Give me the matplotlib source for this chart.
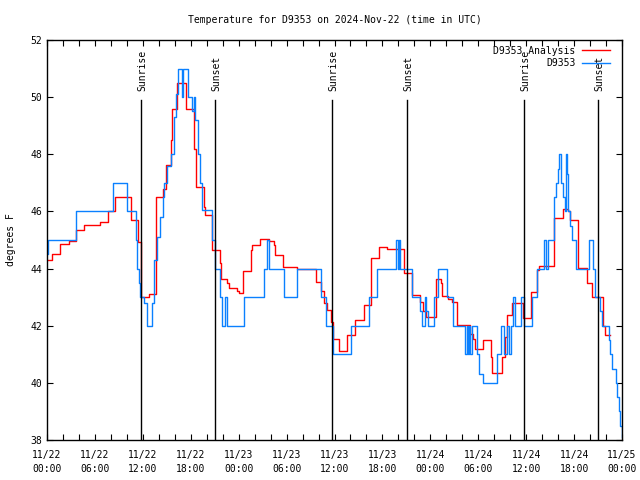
import numpy as np
import matplotlib.pyplot as plt

# hours since 2024-11-22 00:00 UTC
obs_hours = [0.0, 0.15, 3.63, 8.3, 10.06, 11.1, 11.25, 11.5, 11.6, 12.1, 12.5, 13.2, 13.35,
             13.75, 14.15, 14.5, 14.7, 15.06, 15.5, 15.9, 16.1, 16.2, 16.36, 16.87, 17.0,
             17.7, 18.2, 18.4, 18.5, 18.86, 19.1, 19.45, 20.7, 21.0, 21.7, 21.95, 22.3,
             22.5, 24.7, 27.2, 27.55, 27.8, 29.7, 31.3, 34.3, 34.9, 35.8, 38.1, 40.3,
             41.3, 43.75, 43.9, 44.1, 44.2, 45.7, 46.65, 46.9, 47.3, 47.45, 47.65, 48.4,
             48.9, 50.1, 50.85, 52.4, 52.55, 52.7, 52.85, 53.0, 53.2, 53.9, 54.1, 54.6,
             56.3, 56.9, 57.2, 57.6, 57.8, 58.1, 58.4, 58.6, 59.3, 59.75, 60.7, 61.3,
             62.2, 62.5, 62.7, 63.5, 63.7, 64.0, 64.15, 64.4, 64.6, 64.8, 64.95, 65.1,
             65.3, 65.55, 65.7, 66.2, 67.9, 68.4, 68.6, 69.25, 69.45, 70.4, 70.55, 70.8,
             71.2, 71.4, 71.6, 71.8, 71.95]
obs_temp = [44.5, 45.0, 46.0, 47.0, 46.0, 45.0, 44.0, 43.5, 43.0, 42.8, 42.0, 42.8, 44.3,
            45.1, 45.8, 46.5, 47.0, 47.6, 48.0, 49.3, 49.7, 50.1, 51.0, 50.0, 51.0,
            50.0, 49.5, 50.0, 49.2, 48.0, 47.0, 46.05, 45.0, 44.0, 43.0, 42.0, 43.0,
            42.0, 43.0, 44.0, 45.0, 44.0, 43.0, 44.0, 43.0, 42.0, 41.0, 42.0, 43.0,
            44.0, 45.0, 44.0, 45.0, 44.0, 43.0, 42.5, 42.0, 43.0, 42.5, 42.0, 43.0,
            44.0, 43.0, 42.0, 41.0, 42.0, 41.0, 42.0, 41.0, 42.0, 41.0, 40.3, 40.0,
            41.0, 42.0, 41.0, 42.0, 41.0, 42.0, 43.0, 42.0, 43.0, 42.0, 43.0, 44.0,
            45.0, 44.0, 45.0, 46.5, 47.0, 47.5, 48.0, 47.0, 46.5, 46.0, 48.0, 47.3,
            46.0, 45.5, 45.0, 44.0, 45.0, 44.0, 43.0, 42.5, 42.0, 41.5, 41.0, 40.5,
            40.0, 39.5, 39.0, 38.5, 38.1]

ana_hours = [0.0, 0.67, 1.6, 2.7, 3.6, 4.6, 6.6, 7.7, 8.5, 10.55, 11.35, 11.8, 12.8,
             13.65, 14.56, 14.9, 15.5, 15.6, 16.24, 17.4, 18.4, 18.6, 19.6, 19.75, 20.7,
             21.66, 21.85, 22.6, 22.75, 23.75, 24.0, 24.6, 25.5, 25.7, 26.7, 27.8, 28.4,
             28.6, 29.6, 31.3, 32.7, 33.7, 34.3, 34.65, 35.0, 35.6, 35.75, 36.6, 37.6,
             38.6, 39.65, 40.6, 41.6, 42.6, 44.0, 44.7, 45.7, 46.7, 47.1, 47.5, 48.7,
             49.3, 49.5, 50.25, 50.7, 51.4, 53.0, 53.4, 53.6, 54.3, 54.6, 55.6, 55.75,
             57.0, 57.3, 57.6, 58.2, 59.6, 60.55, 61.4, 61.6, 63.5, 64.6, 65.3, 65.5,
             66.5, 67.6, 68.3, 69.6, 69.9, 70.5]
ana_temp = [44.3, 44.5, 44.86, 44.96, 45.35, 45.52, 45.64, 46.0, 46.5, 45.7, 44.94, 43.0, 43.1,
            46.52, 46.8, 47.63, 48.5, 49.6, 50.48, 49.6, 48.2, 46.87, 46.17, 45.87, 44.65,
            44.18, 43.62, 43.5, 43.33, 43.2, 43.15, 43.93, 44.65, 44.83, 45.02, 44.95, 44.83,
            44.48, 44.07, 44.0, 43.98, 43.54, 43.2, 42.8, 42.55, 42.14, 41.52, 41.1, 41.67,
            42.2, 42.73, 44.36, 44.74, 44.7, 44.68, 43.83, 43.07, 42.84, 42.5, 42.32, 43.62,
            43.5, 43.04, 42.92, 42.82, 42.01, 41.7, 41.52, 41.17, 41.2, 41.5, 40.92, 40.33,
            40.9, 41.6, 42.37, 42.78, 42.26, 43.19, 43.95, 44.09, 45.76, 46.07, 46.0, 45.7,
            44.03, 43.48, 43.02, 42.0, 41.67, 41.67]

sun_hours = [11.77, 21.03, 35.67, 45.06, 59.7, 68.96]
sun_labels = ["Sunrise", "Sunset", "Sunrise", "Sunset", "Sunrise", "Sunset"]

tick_hours = list(range(0, 73, 6))
tick_labels = ["11/22\n00:00", "11/22\n06:00", "11/22\n12:00", "11/22\n18:00",
               "11/23\n00:00", "11/23\n06:00", "11/23\n12:00", "11/23\n18:00",
               "11/24\n00:00", "11/24\n06:00", "11/24\n12:00", "11/24\n18:00",
               "11/25\n00:00"]

plt.rcParams['font.family'] = ['DejaVu Sans Mono']
plt.rcParams['font.size'] = 7

fig = plt.figure(figsize=(6.4, 4.8), dpi=100)
ax = fig.add_axes([47 / 640, 1 - 440 / 480, 575 / 640, 400 / 480])

ax.plot(ana_hours, ana_temp, drawstyle='steps-post', color='#ff0000', lw=1.0,
        label='D9353 Analysis')
ax.plot(obs_hours, obs_temp, drawstyle='steps-post', color='#0a80ff', lw=1.0,
        label='D9353')

line_top = 49.9
for h, lab in zip(sun_hours, sun_labels):
    ax.plot([h, h], [38, line_top], color='black', lw=1.0)
    ax.text(h + 0.2, 50.2, lab, rotation=90, ha='center', va='bottom', fontsize=7)

ax.set_xlim(0, 72)
ax.set_ylim(38, 52)
ax.set_xticks(tick_hours)
ax.set_xticklabels(tick_labels, linespacing=1.5)
ax.set_xticks(range(0, 73, 2), minor=True)
ax.set_yticks(range(38, 53, 2))
ax.tick_params(axis='both', which='both', direction='in', top=True, right=True,
               length=4, width=0.8, labelsize=7)
ax.tick_params(axis='x', pad=7)
for s in ax.spines.values():
    s.set_linewidth(1.0)

ax.set_title('Temperature for D9353 on 2024-Nov-22 (time in UTC)', fontsize=7, pad=12)
ax.set_ylabel('degrees F', fontsize=7, labelpad=10)

ax.legend(loc='upper right', frameon=False, markerfirst=False, handlelength=2.9,
          handletextpad=0.7, fontsize=7, borderaxespad=0.0, borderpad=0.3,
          labelspacing=0.25, bbox_to_anchor=(0.985, 0.993))

fig.savefig('out.png', dpi=100)
